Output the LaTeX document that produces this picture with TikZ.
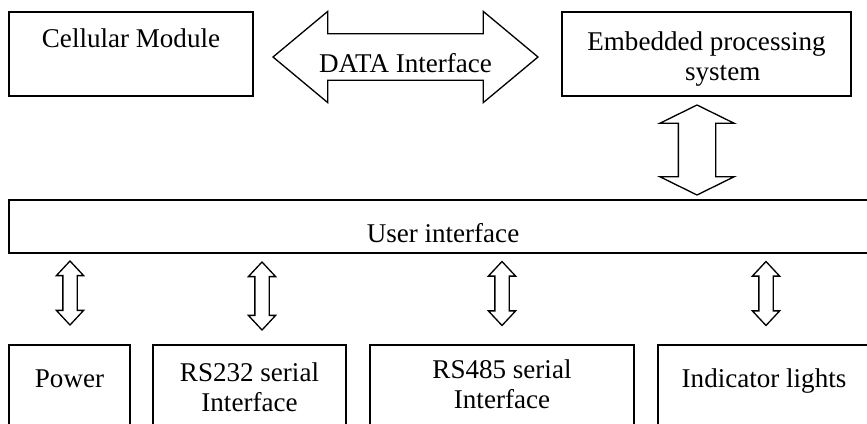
\documentclass[tikz,border=0pt]{standalone}
\usepackage{fontspec}
\setmainfont{Liberation Serif}
\usetikzlibrary{shapes.arrows}

\begin{document}
\begin{tikzpicture}[x=0.2cm, y=0.2cm, font=\fontsize{15.4}{17.1}\selectfont,
    box/.style={draw, line width=0.75pt, inner sep=0pt},
    blockarrow/.style={draw, line width=0.75pt, double arrow, inner xsep=0pt, text height=0pt, text depth=0pt},
    updown/.style={blockarrow, rotate=90, minimum height=#1, inner ysep=0.13cm,
        double arrow head extend=0.13cm, double arrow tip angle=86}]
    \useasboundingbox (0,0) rectangle (86.7,42.3);

    \node [box, minimum width=4.88cm, text height=0.72cm, text depth=0.96cm] (Bcell) at (13.1, 36.9) {Cellular Module};
    \node [box, minimum width=5.78cm, minimum height=1.68cm] (Bemb) at (70.65, 36.9) {};
    \node [anchor=north, inner sep=0pt, align=center] (Temb) at (70.65, 39.15) {Embedded processing\\\hspace*{1.2em}system};

    \node [blockarrow, minimum height=5.3cm, inner ysep=0.15cm, text height=0.6cm,
        double arrow head extend=0.45cm, double arrow tip angle=79.6] (Adata) at (40.55, 36.6) {\makebox[0pt]{DATA Interface}};
    \node [blockarrow, rotate=90, minimum height=1.8cm, inner ysep=0.36cm,
        double arrow head extend=0.37cm, double arrow tip angle=127.6] (Alink) at (69.7, 27.3) {};

    \node [box, minimum width=17.36cm, text height=0.84cm, text depth=0.22cm] (Buser) at (44.3, 19.65) {User interface};

    \node [updown=1.28cm] (Apow) at (7.0, 13.0) {};
    \node [updown=1.36cm] (Ars232) at (26.2, 12.7) {};
    \node [updown=1.28cm] (Ars485) at (50.2, 12.95) {};
    \node [updown=1.28cm] (Aind) at (76.6, 12.95) {};

    \node [box, minimum width=2.42cm, text height=0.84cm, text depth=0.86cm] (Bpow) at (6.95, 3.55) {Power};
    \node [box, minimum width=3.86cm, minimum height=1.7cm] (Brs232) at (24.95, 3.55) {};
    \node [anchor=north, inner sep=0pt, align=center] (Trs232) at (24.95, 6.04) {RS232 serial\\Interface};
    \node [box, minimum width=5.28cm, minimum height=1.7cm] (Brs485) at (50.2, 3.55) {};
    \node [anchor=north, inner sep=0pt, align=center] (Trs485) at (50.2, 6.35) {RS485 serial\\Interface};
    \node [box, minimum width=4.24cm, text height=0.84cm, text depth=0.86cm] (Bind) at (76.4, 3.55) {Indicator lights};
\end{tikzpicture}
\end{document}
